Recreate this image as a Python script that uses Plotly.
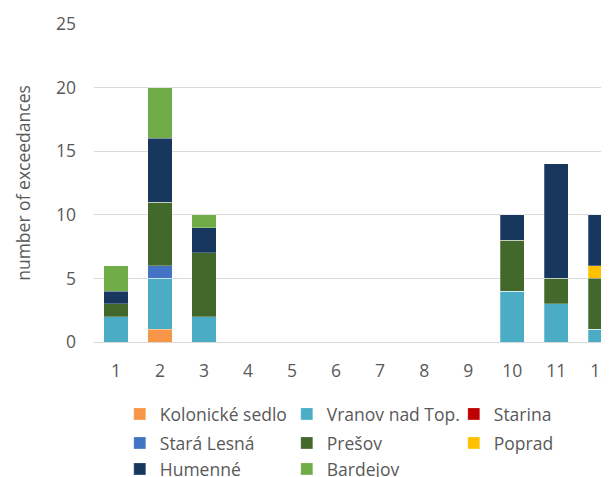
import plotly.graph_objects as go

months = ["1", "2", "3", "4", "5", "6", "7", "8", "9", "10", "11", "12"]

kolonicke = [0, 1, 0, 0, 0, 0, 0, 0, 0, 0, 0, 0]
vranov    = [2, 4, 2, 0, 0, 0, 0, 0, 0, 4, 3, 1]
starina   = [0, 0, 0, 0, 0, 0, 0, 0, 0, 0, 0, 0]
stara_lesna = [0, 1, 0, 0, 0, 0, 0, 0, 0, 0, 0, 0]
presov    = [1, 5, 5, 0, 0, 0, 0, 0, 0, 4, 2, 4]
poprad    = [0, 0, 0, 0, 0, 0, 0, 0, 0, 0, 0, 1]
humenne   = [1, 5, 2, 0, 0, 0, 0, 0, 0, 2, 9, 4]
bardejov  = [2, 4, 1, 0, 0, 0, 0, 0, 0, 0, 0, 0]

series = [
    ("Kolonické sedlo", kolonicke, "#F79646", "legend"),
    ("Vranov nad Top.", vranov, "#4BACC6", "legend"),
    ("Starina", starina, "#C00000", "legend"),
    ("Stará Lesná", stara_lesna, "#4472C4", "legend2"),
    ("Prešov", presov, "#43682B", "legend2"),
    ("Poprad", poprad, "#FFC000", "legend2"),
    ("Humenné", humenne, "#17375E", "legend3"),
    ("Bardejov", bardejov, "#70AD47", "legend3"),
]

fig = go.Figure()
for name, vals, color, lg in series:
    fig.add_trace(go.Bar(
        x=months, y=vals, name=name, legend=lg,
        marker=dict(color=color, line=dict(width=0.5, color="rgba(255,255,255,0.5)")),
    ))

font_family = "Open Sans, Lato, sans-serif"
fs = 17.5
txt = "#595959"


def row_legend(y):
    return dict(
        orientation="h", traceorder="normal",
        xref="container", yref="container",
        x=0.186, xanchor="left", y=y, yanchor="middle",
        entrywidth=122, entrywidthmode="pixels",
        font=dict(size=fs, color=txt, family=font_family),
        itemclick=False, bgcolor="rgba(0,0,0,0)",
    )


fig.update_layout(
    width=601, height=469,
    barmode="stack", bargap=0.45,
    plot_bgcolor="white", paper_bgcolor="white",
    margin=dict(l=86, r=0, t=16, b=135, autoexpand=False),
    font=dict(family=font_family, size=fs, color=txt),
    showlegend=True,
    legend=row_legend(1 - 406 / 469),
    legend2=row_legend(1 - 435 / 469),
    legend3=row_legend(1 - 461 / 469),
    xaxis=dict(
        type="category", range=[-0.5, 11.2], automargin=False,
        showgrid=False, showline=False, ticks="",
        tickfont=dict(size=fs, color=txt),
        ticklabelstandoff=16,
    ),
    yaxis=dict(
        range=[0, 25], dtick=5, automargin=False,
        showgrid=True, gridcolor="#D9D9D9", gridwidth=1.3,
        zeroline=True, zerolinecolor="#D9D9D9", zerolinewidth=1.3,
        showline=False, ticks="",
        tickfont=dict(size=fs, color=txt),
        ticklabelstandoff=17,
        title=dict(text="number of exceedances", font=dict(size=fs, color=txt), standoff=20),
    ),
)

fig.write_html("out.html")
